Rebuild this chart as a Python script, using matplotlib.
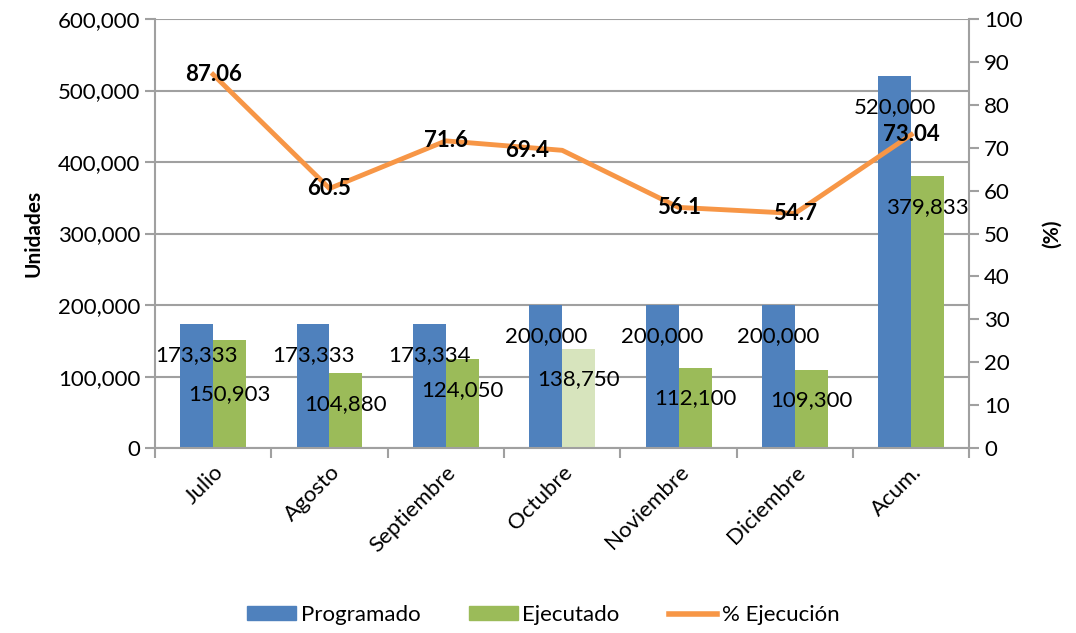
import numpy as np
import matplotlib.pyplot as plt
from matplotlib.lines import Line2D
from matplotlib.patches import Patch
from matplotlib.ticker import FuncFormatter

plt.rcParams['font.family'] = ['Lato', 'DejaVu Sans']

meses = ["Julio", "Agosto", "Septiembre", "Octubre", "Noviembre", "Diciembre", "Acum."]
programado = [173333, 173333, 173334, 200000, 200000, 200000, 520000]
ejecutado = [150903, 104880, 124050, 138750, 112100, 109300, 379833]
ejecucion = [87.06, 60.5, 71.6, 69.4, 56.1, 54.7, 73.04]
ejec_txt = ["87.06", "60.5", "71.6", "69.4", "56.1", "54.7", "73.04"]

azul = "#4F81BD"
verde = "#9BBB59"
verde_claro = "#D7E4BD"
naranja = "#F79646"
gris = "#A0A0A0"

fig = plt.figure(figsize=(10.76, 6.33), dpi=100)
ax = fig.add_axes([0.144, 0.292, 0.757, 0.678])
ax2 = ax.twinx()

x = np.arange(len(meses))
w = 0.283
col_ej = [verde_claro if m == "Octubre" else verde for m in meses]

ax.bar(x - w/2, programado, w, color=azul, zorder=2)
ax.bar(x + w/2, ejecutado, w, color=col_ej, zorder=2)

# etiquetas de barras (unos 30 px bajo el extremo)
for i in range(len(meses)):
    ax.annotate(f"{programado[i]:,}", (x[i] - w/2, programado[i]), xytext=(0, -22),
                textcoords="offset points", ha="center", va="center", fontsize=16, zorder=5)
    dy = -39 if i == 0 else -22
    ax.annotate(f"{ejecutado[i]:,}", (x[i] + w/2, ejecutado[i]), xytext=(0, dy),
                textcoords="offset points", ha="center", va="center", fontsize=16, zorder=5)

ax.set_xlim(-0.5, len(meses) - 0.5)
ax.set_ylim(0, 600000)
ax.set_yticks(np.arange(0, 600001, 100000))
ax.yaxis.set_major_formatter(FuncFormatter(lambda v, p: f"{int(v):,}"))
ax.set_xticks(x)
ax.set_xticklabels(meses, rotation=45, ha="right", rotation_mode="anchor", fontsize=16)
ax.set_xticks(np.arange(-0.5, len(meses), 1), minor=True)
ax.tick_params(axis="x", which="major", length=0, pad=10)
ax.tick_params(axis="x", which="minor", length=7, color=gris, width=1.5)
ax.tick_params(axis="y", labelsize=16, length=7, color=gris, width=1.5)
ax.grid(axis="y", color=gris, linewidth=1.5, zorder=0)
ax.set_axisbelow(True)
ax.set_ylabel("Unidades", fontsize=15, fontweight="bold", labelpad=10)

for s in ["top", "right"]:
    ax.spines[s].set_visible(False)
ax.spines["left"].set_color(gris)
ax.spines["bottom"].set_color(gris)
ax.spines["left"].set_linewidth(1.5)
ax.spines["bottom"].set_linewidth(1.5)

ax2.plot(x, ejecucion, color=naranja, linewidth=3.5, zorder=3)
for i in range(len(meses)):
    dx = -25 if meses[i] == "Octubre" else 0
    ax2.annotate(ejec_txt[i], (x[i], ejecucion[i]), xytext=(dx, 0), textcoords="offset points",
                 ha="center", va="center", fontsize=16, fontweight="bold", zorder=4)
ax2.set_ylim(0, 100)
ax2.set_yticks(np.arange(0, 101, 10))
ax2.tick_params(axis="y", labelsize=16, length=7, color=gris, width=1.5)
ax2.set_ylabel("(%)", fontsize=15, fontweight="bold", labelpad=14)
for s in ["top", "left", "bottom"]:
    ax2.spines[s].set_visible(False)
ax2.spines["right"].set_color(gris)
ax2.spines["right"].set_linewidth(1.5)

handles = [Patch(color=azul, label="Programado"),
           Patch(color=verde, label="Ejecutado"),
           Line2D([0], [0], color=naranja, linewidth=4, label="% Ejecución")]
fig.legend(handles=handles, loc="center", bbox_to_anchor=(0.505, 0.028), ncol=3,
           frameon=False, fontsize=16, handlelength=2.2, handleheight=0.6,
           handletextpad=0.2, columnspacing=2.2)

fig.savefig("out.png", dpi=100)
